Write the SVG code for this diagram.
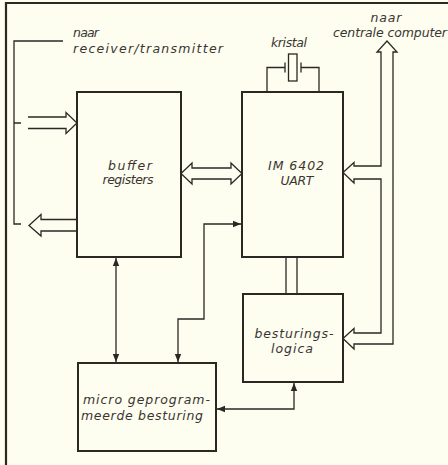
<svg xmlns="http://www.w3.org/2000/svg" width="448" height="465" viewBox="0 0 448 465">
<style>
.bg{fill:#fdfdf0}
.box{fill:none;stroke:#2b2824;stroke-width:2}
.ln{fill:none;stroke:#2b2824;stroke-width:1.3}
.bus{fill:none;stroke:#2b2824;stroke-width:1.3;stroke-linejoin:miter}
.frame{fill:none;stroke:#2b2824;stroke-width:2.2}
text{font-family:"DejaVu Sans","Liberation Sans",sans-serif;font-style:italic;font-size:12.5px;fill:#3a3530}
.c{text-anchor:middle}
</style>
<defs>
<marker id="ah" viewBox="0 0 8 8" refX="8" refY="4" markerWidth="8" markerHeight="8" markerUnits="userSpaceOnUse" orient="auto-start-reverse">
<path d="M0,0.8 L8,4 L0,7.2 Z" fill="#2b2824"/>
</marker>
</defs>
<rect class="bg" x="0" y="0" width="448" height="465"/>
<g id="frame">
<path class="frame" d="M6,465 V3 H448"/>
</g>
<g id="label-receiver">
<path class="ln" d="M63,41 H14 V224 H21 M14,123 H21"/>
<text x="73" y="37" textLength="26" lengthAdjust="spacing">naar</text>
<text x="73" y="53" textLength="150" lengthAdjust="spacing">receiver/transmitter</text>
</g>
<g id="label-computer">
<text x="386" y="22" class="c" textLength="31" lengthAdjust="spacing">naar</text>
<text x="390" y="37" class="c" textLength="114" lengthAdjust="spacing">centrale computer</text>
</g>
<g id="buffer">
<rect class="box" x="77" y="92" width="104" height="165"/>
<text x="130" y="170" class="c" textLength="44" lengthAdjust="spacing">buffer</text>
<text x="128" y="184" class="c" textLength="51" lengthAdjust="spacing">registers</text>
</g>
<g id="uart">
<rect class="box" x="242" y="92" width="101" height="165"/>
<text x="296" y="170" class="c" textLength="56" lengthAdjust="spacing">IM 6402</text>
<text x="297" y="185" class="c" textLength="33" lengthAdjust="spacing">UART</text>
</g>
<g id="kristal">
<path class="ln" d="M267,92 V67.5 H285 M285,62.5 V72.5 M301,62.5 V72.5 M301,67.5 H319 V92"/>
<rect class="ln" x="288.5" y="54" width="8.5" height="27"/>
<text x="289" y="47" class="c" textLength="36" lengthAdjust="spacing">kristal</text>
</g>
<g id="besturingslogica">
<rect class="box" x="243" y="294" width="100" height="88"/>
<text x="294" y="338" class="c" textLength="79" lengthAdjust="spacing">besturings-</text>
<text x="292" y="353" class="c" textLength="42" lengthAdjust="spacing">logica</text>
</g>
<g id="micro">
<rect class="box" x="78" y="363" width="138" height="88"/>
<text x="83" y="404" textLength="127" lengthAdjust="spacing">micro geprogram-</text>
<text x="81" y="420" textLength="122" lengthAdjust="spacing">meerde besturing</text>
</g>
<g id="connectors">
<path class="bus" d="M28,117 H66 V112.5 L77,123 L66,133.5 V128.5 H28"/>
<path class="bus" d="M77,219.5 H41 V214.5 L29,225.5 L41,236 V231 H77"/>
<path class="bus" d="M192,168 H231 V163 L242,173.5 L231,184 V179 H192 V184 L181,173.5 L192,163 Z"/>
<path class="bus" d="M381,166 H354 V162.5 L343,172.5 L354,183 V179 H381 V333 H354 V328.5 L343,338.5 L354,349 V344 H393 V52 H397 L387,41 L377,52 H381 Z"/>
<path class="ln" d="M286,257 V294 M297,257 V294"/>
<path class="ln" d="M116,258 V362" marker-start="url(#ah)" marker-end="url(#ah)"/>
<path class="ln" d="M178,362 V319 H204 V224 H241" marker-start="url(#ah)" marker-end="url(#ah)"/>
<path class="ln" d="M217,409 H294 V383" marker-start="url(#ah)" marker-end="url(#ah)"/>
</g>
</svg>
